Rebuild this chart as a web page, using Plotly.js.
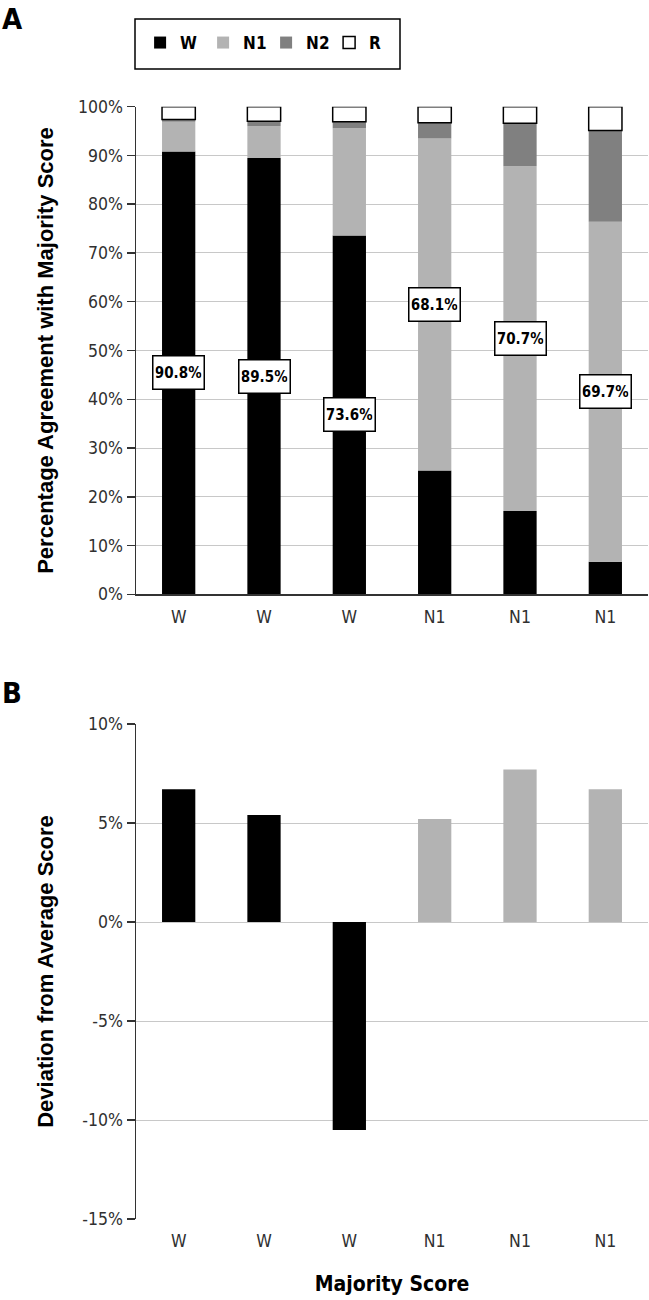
<!DOCTYPE html>
<html>
<head>
<meta charset="utf-8">
<script src="https://cdn.plot.ly/plotly-3.0.1.min.js"></script>
<style>html,body{margin:0;padding:0;background:#fff;}#chart{width:649px;height:1300px;}</style>
</head>
<body>
<div id="chart"></div>
<script>
// ---- data ----
const majorityScore = ['W', 'W', 'W', 'N1', 'N1', 'N1'];
const pctW  = [90.8, 89.5, 73.6, 25.4, 17.1, 6.7];
const pctN1 = [6.1, 6.5, 22.0, 68.1, 70.7, 69.7];
const pctN2 = [0.5, 1.0, 1.3, 3.2, 8.8, 18.7];
const pctR  = [2.6, 3.0, 3.1, 3.3, 3.4, 4.9];
const deviation = [6.7, 5.4, -10.5, 5.2, 7.7, 6.7];
const agreeTickVals = [0, 10, 20, 30, 40, 50, 60, 70, 80, 90, 100];
const agreeTickText = ['0%', '10%', '20%', '30%', '40%', '50%', '60%', '70%', '80%', '90%', '100%'];
const devTickVals = [-15, -10, -5, 0, 5, 10];
const devTickText = ['-15%', '-10%', '-5%', '0%', '5%', '10%'];

// ---- styling ----
const NARROW = '"DejaVu Sans Condensed", "Liberation Sans Narrow", sans-serif';
const BOLDF = '"Liberation Sans", Arial, sans-serif';
const colors = {W: '#000000', N1: '#b3b3b3', N2: '#808080', R: '#ffffff'};
const H = 1300;
const domA = [1 - 594.3 / H, 1 - 106.7 / H];
const domB = [1 - 1219 / H, 1 - 724 / H];
const devRange = [-15, 10];
const zeroPos = domB[0] + (0 - devRange[0]) / (devRange[1] - devRange[0]) * (domB[1] - domB[0]);

const idx = majorityScore.map((_, i) => i);
const boundaries = idx.map(i => i - 0.5).concat([idx.length - 0.5]);
const tickFont = {family: NARROW, size: 17.5, color: '#303030'};

const traces = [
  {type: 'bar', name: 'W', x: idx, y: pctW, marker: {color: colors.W, line: {width: 0}}},
  {type: 'bar', name: 'N1', x: idx, y: pctN1, marker: {color: colors.N1, line: {width: 0}}},
  {type: 'bar', name: 'N2', x: idx, y: pctN2, marker: {color: colors.N2, line: {width: 0}}},
  {type: 'bar', name: 'R', x: idx, y: pctR, marker: {color: colors.R, line: {color: '#000', width: 1.5}}},
  {type: 'bar', name: 'dev', x: idx, y: deviation, xaxis: 'x2', yaxis: 'y2', showlegend: false,
   marker: {color: majorityScore.map(m => colors[m]), line: {width: 0}}}
];

// labels of majority agreement inside the main segment
const annotations = idx.map(i => {
  const isW = majorityScore[i] === 'W';
  const v = isW ? pctW[i] : pctN1[i];
  const yc = isW ? pctW[i] / 2 : pctW[i] + pctN1[i] / 2;
  return {x: i, y: yc, xref: 'x', yref: 'y', text: v.toFixed(1) + '%', showarrow: false,
    font: {family: NARROW, size: 15, color: '#000', weight: 'bold'},
    bgcolor: '#fff', bordercolor: '#000', borderwidth: 1.5, borderpad: 2, width: 46, height: 28};
});
annotations.push({xref: 'paper', yref: 'paper', x: -136 / 512, y: 1 - 0 / H, xanchor: 'left', yanchor: 'top',
  text: 'A', showarrow: false, font: {family: NARROW, size: 29, color: '#000', weight: 'bold'}});
annotations.push({xref: 'paper', yref: 'paper', x: -136 / 512, y: 1 - 674 / H, xanchor: 'left', yanchor: 'top',
  text: 'B', showarrow: false, font: {family: NARROW, size: 29, color: '#000', weight: 'bold'}});

const layout = {
  width: 649, height: H,
  margin: {l: 136, r: 1, t: 0, b: 0},
  paper_bgcolor: '#fff', plot_bgcolor: '#fff',
  barmode: 'relative', bargap: 0.61,
  showlegend: true,
  legend: {orientation: 'h', x: 0.008, y: 1 - 43 / H, xanchor: 'left', yanchor: 'middle',
    bgcolor: 'rgba(0,0,0,0)', borderwidth: 0, entrywidth: 18, traceorder: 'normal',
    font: {family: NARROW, size: 17, color: '#000', weight: 'bold'}},
  xaxis: {domain: [0, 1], anchor: 'y', range: [-0.5, idx.length - 0.5], tickvals: idx, ticktext: majorityScore,
    ticks: 'outside', ticklen: 6, tickcolor: 'rgba(0,0,0,0)', showgrid: false, zeroline: false,
    showline: true, linecolor: '#333', linewidth: 1.5, tickfont: tickFont},
  xaxis3: {overlaying: 'x', anchor: 'y', range: [-0.5, idx.length - 0.5], tickvals: boundaries,
    ticks: 'outside', ticklen: 8, tickwidth: 1.5, tickcolor: '#333', showticklabels: false,
    showgrid: false, zeroline: false, showline: false},
  yaxis: {domain: domA, anchor: 'x', range: [0, 100], tickvals: agreeTickVals, ticktext: agreeTickText,
    ticks: 'outside', ticklen: 8, tickwidth: 1.5, tickcolor: '#333', showline: true, linecolor: '#333', linewidth: 1.5,
    showgrid: true, gridcolor: '#c8c8c8', gridwidth: 1, zeroline: false, tickfont: tickFont,
    title: {text: 'Percentage Agreement with Majority Score', standoff: 18,
      font: {family: BOLDF, size: 22, color: '#000', weight: 'bold'}}},
  xaxis2: {domain: [0, 1], anchor: 'y2', range: [-0.5, idx.length - 0.5], tickvals: idx, ticktext: majorityScore,
    ticks: 'outside', ticklen: 6, tickcolor: 'rgba(0,0,0,0)', showgrid: false, zeroline: false, showline: false,
    tickfont: tickFont,
    title: {text: 'Majority Score', standoff: 26, font: {family: NARROW, size: 21, color: '#000', weight: 'bold'}}},
  xaxis4: {overlaying: 'x2', anchor: 'free', position: zeroPos, range: [-0.5, idx.length - 0.5], tickvals: boundaries,
    ticks: 'outside', ticklen: 8, tickwidth: 1.5, tickcolor: '#333', showticklabels: false,
    showgrid: false, zeroline: false, showline: true, linecolor: '#333', linewidth: 1.5},
  yaxis2: {domain: domB, anchor: 'x2', range: devRange, tickvals: devTickVals, ticktext: devTickText,
    ticks: 'outside', ticklen: 8, tickwidth: 1.5, tickcolor: '#333', showline: true, linecolor: '#333', linewidth: 1.5,
    showgrid: true, gridcolor: '#c8c8c8', gridwidth: 1, zeroline: false, tickfont: tickFont,
    title: {text: 'Deviation from Average Score', standoff: 22,
      font: {family: BOLDF, size: 22, color: '#000', weight: 'bold'}}},
  shapes: [{type: 'rect', xref: 'paper', yref: 'paper', x0: -1 / 512, x1: 264 / 512, y0: 1 - 69 / H, y1: 1 - 19 / H,
    line: {color: '#000', width: 1.5}, fillcolor: 'rgba(0,0,0,0)', layer: 'above'}],
  annotations: annotations
};

Plotly.newPlot('chart', traces, layout, {staticPlot: true, displayModeBar: false});
</script>
</body>
</html>
